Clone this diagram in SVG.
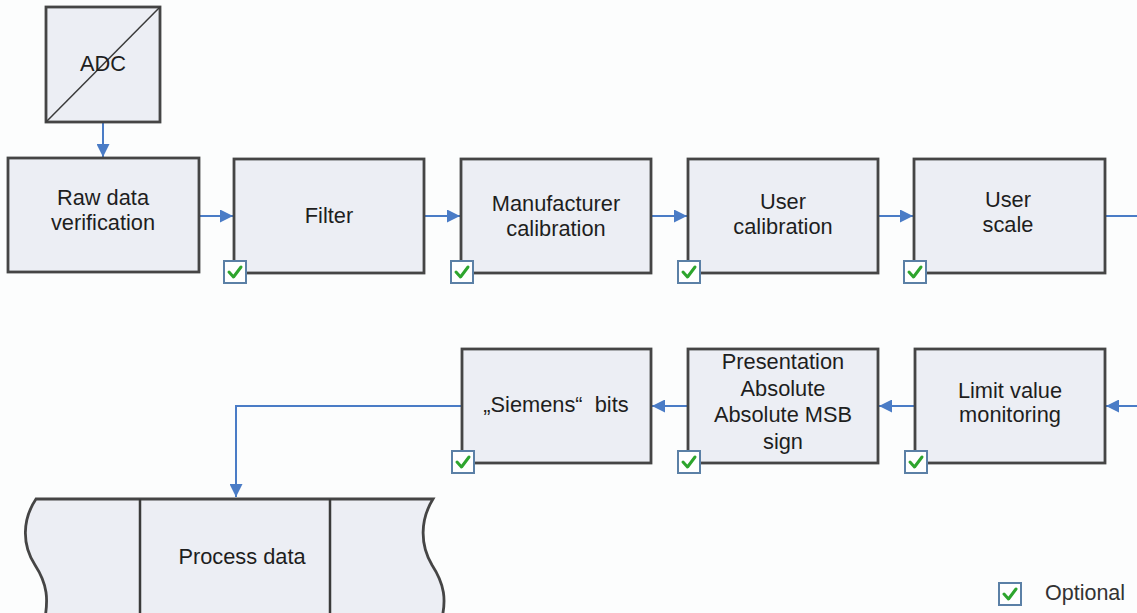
<svg xmlns="http://www.w3.org/2000/svg" width="1137" height="613" viewBox="0 0 1137 613">
<style>
.bg{fill:#fcfdfd}
.box{fill:#eceef4;stroke:#454545;stroke-width:2.8}
.t{font-family:"Liberation Sans",Arial,sans-serif;font-size:21.8px;fill:#1e1e1e;text-anchor:middle}
.lbl{font-family:"Liberation Sans",Arial,sans-serif;font-size:21.5px;fill:#333;text-anchor:start}
.cb{fill:#ffffff;stroke:#5b80a6;stroke-width:2}
.ck{fill:none;stroke:#2ea52e;stroke-width:3;stroke-linecap:round;stroke-linejoin:round}
.c{fill:none;stroke:#4a7cc6;stroke-width:2}
.div{stroke:#3a3a3a;stroke-width:2.5}
</style>
<defs>
<marker id="ah" viewBox="0 0 10 10" refX="10" refY="5" markerWidth="6.5" markerHeight="6.5" orient="auto" markerUnits="strokeWidth">
<path d="M0,0 L10,5 L0,10 Z" fill="#4a7cc6"/>
</marker>
<g id="check">
<rect class="cb" x="0" y="0" width="22" height="22"/>
<path class="ck" d="M5,11 L9.5,16 L17,6"/>
</g>
</defs>
<rect class="bg" x="0" y="0" width="1137" height="613"/>

<g id="connectors">
<line class="c" x1="103" y1="123" x2="103" y2="157" marker-end="url(#ah)"/>
<line class="c" x1="200" y1="216" x2="233" y2="216" marker-end="url(#ah)"/>
<line class="c" x1="425" y1="216" x2="460" y2="216" marker-end="url(#ah)"/>
<line class="c" x1="652" y1="216" x2="687" y2="216" marker-end="url(#ah)"/>
<line class="c" x1="879" y1="216" x2="913" y2="216" marker-end="url(#ah)"/>
<line class="c" x1="1106" y1="216" x2="1137" y2="216"/>
<line class="c" x1="1137" y1="406" x2="1106" y2="406" marker-end="url(#ah)"/>
<line class="c" x1="914" y1="406" x2="879" y2="406" marker-end="url(#ah)"/>
<line class="c" x1="687" y1="406" x2="652" y2="406" marker-end="url(#ah)"/>
<polyline class="c" points="461,406 236,406 236,497" marker-end="url(#ah)"/>
</g>

<g id="adc">
<rect class="box" x="46" y="7" width="114" height="115"/>
<line x1="46" y1="122" x2="160" y2="7" stroke="#3a3a3a" stroke-width="1.5"/>
<text class="t" x="103" y="71">ADC</text>
</g>

<g id="raw-data-verification">
<rect class="box" x="8" y="158" width="191" height="114"/>
<text class="t" x="103" y="205">Raw data</text>
<text class="t" x="103" y="230">verification</text>
</g>

<g id="filter">
<rect class="box" x="234" y="159" width="190" height="114"/>
<text class="t" x="329" y="223">Filter</text>
<use href="#check" x="224" y="261"/>
</g>

<g id="manufacturer-calibration">
<rect class="box" x="461" y="159" width="190" height="114"/>
<text class="t" x="556" y="211">Manufacturer</text>
<text class="t" x="556" y="236">calibration</text>
<use href="#check" x="451" y="261"/>
</g>

<g id="user-calibration">
<rect class="box" x="688" y="159" width="190" height="114"/>
<text class="t" x="783" y="209">User</text>
<text class="t" x="783" y="234">calibration</text>
<use href="#check" x="678" y="261"/>
</g>

<g id="user-scale">
<rect class="box" x="914" y="159" width="191" height="114"/>
<text class="t" x="1008" y="207">User</text>
<text class="t" x="1008" y="232">scale</text>
<use href="#check" x="904" y="261"/>
</g>

<g id="limit-value-monitoring">
<rect class="box" x="915" y="349" width="190" height="114"/>
<text class="t" x="1010" y="398">Limit value</text>
<text class="t" x="1010" y="422">monitoring</text>
<use href="#check" x="905" y="451"/>
</g>

<g id="presentation">
<rect class="box" x="688" y="349" width="190" height="114"/>
<text class="t" x="783" y="369">Presentation</text>
<text class="t" x="783" y="396">Absolute</text>
<text class="t" x="783" y="422">Absolute MSB</text>
<text class="t" x="783" y="449">sign</text>
<use href="#check" x="678" y="451"/>
</g>

<g id="siemens-bits">
<rect class="box" x="462" y="349" width="189" height="114"/>
<text class="t" x="556" y="412" xml:space="preserve">„Siemens“  bits</text>
<use href="#check" x="452" y="451"/>
</g>

<g id="process-data">
<path class="box" d="M36,499 L433,499 C420,520 420,545 432,565 C445,585 446,600 442,618 L45,618 C48,600 48,585 35,565 C22,545 22,520 36,499 Z"/>
<line class="div" x1="140" y1="499" x2="140" y2="613"/>
<line class="div" x1="330" y1="499" x2="330" y2="613"/>
<text class="t" x="242" y="564">Process data</text>
</g>

<g id="legend">
<use href="#check" x="999" y="583"/>
<text class="lbl" x="1045" y="600">Optional</text>
</g>
</svg>
